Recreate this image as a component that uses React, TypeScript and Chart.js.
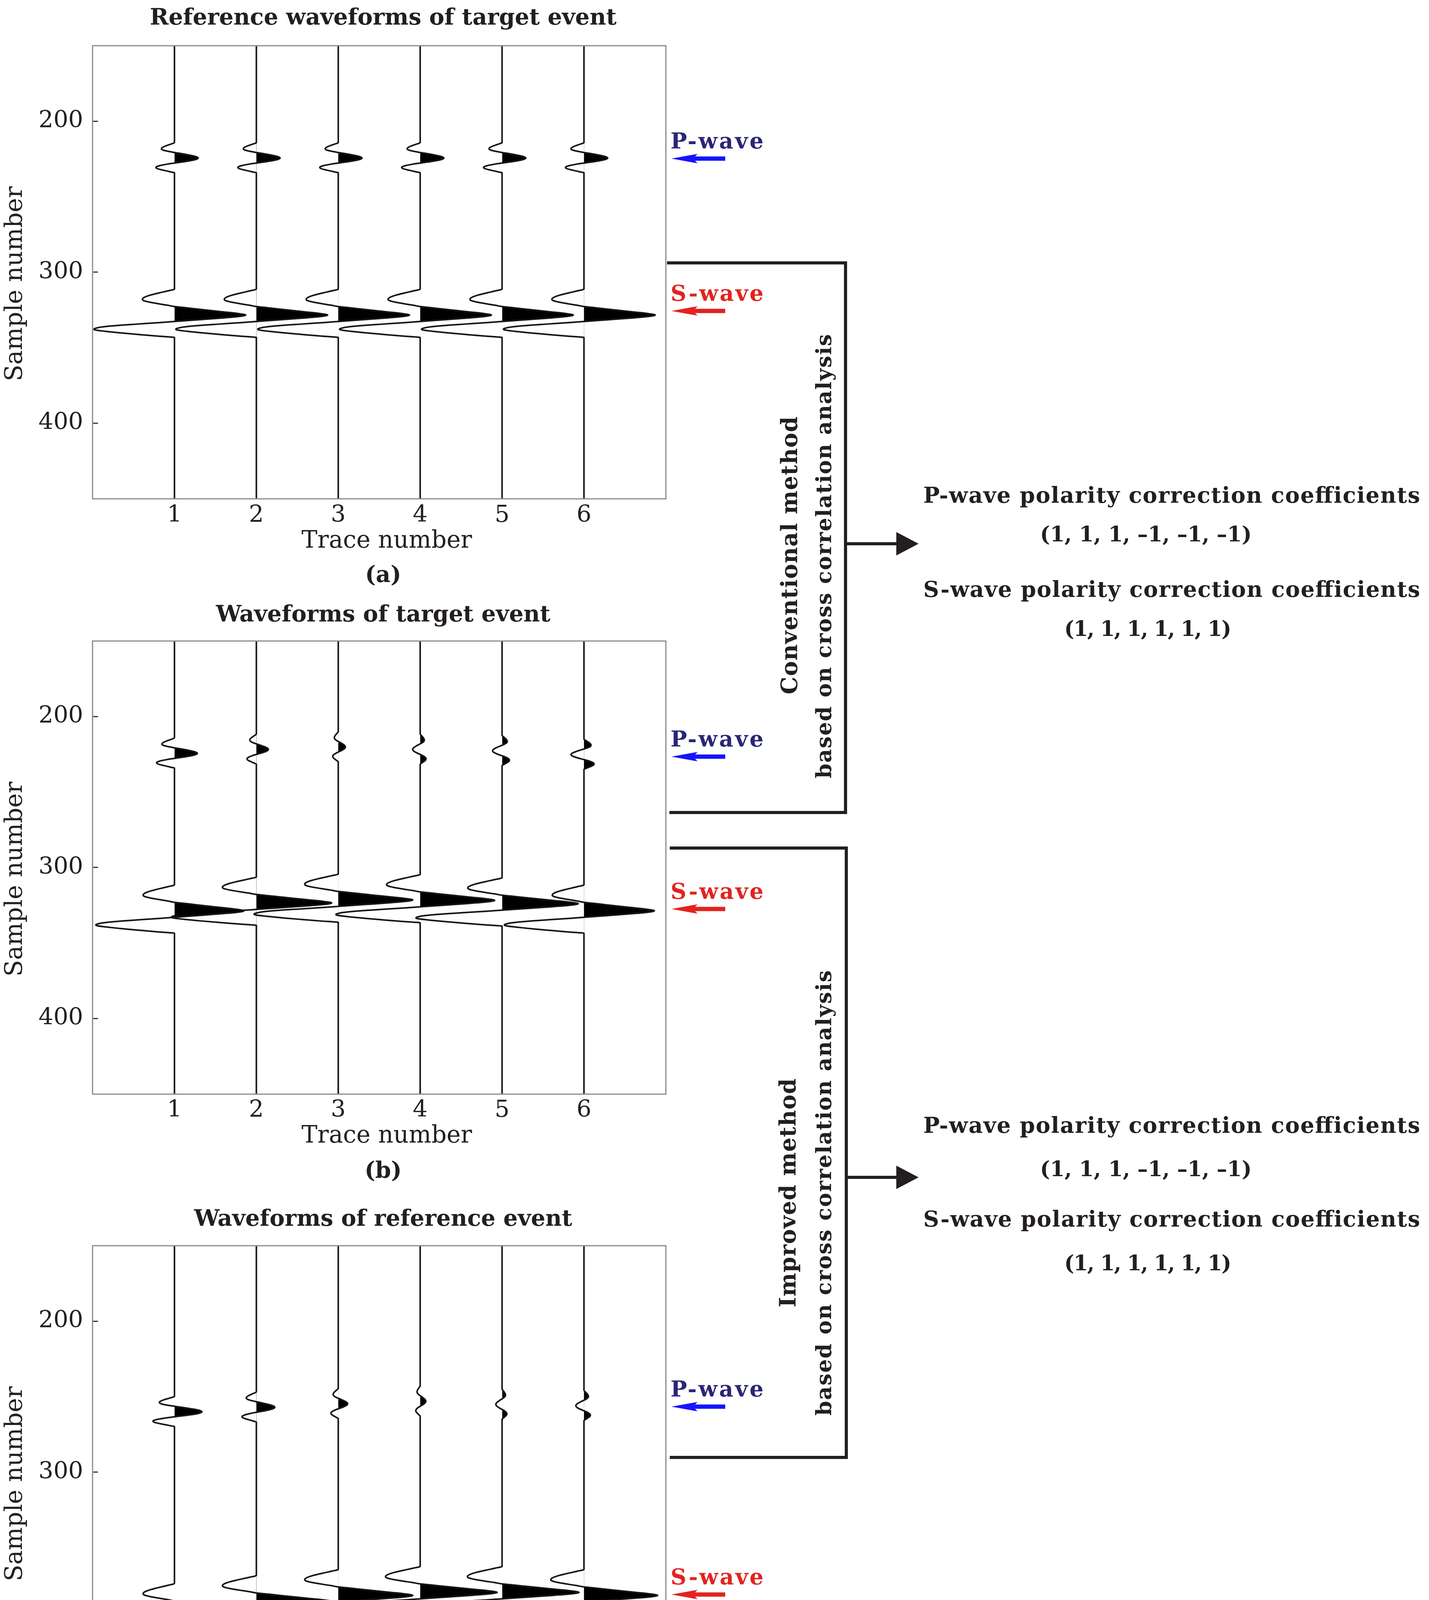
import React, { useEffect, useRef } from "react";
import { Chart, registerables } from "chart.js";

Chart.register(...registerables);

const FONT = "'DejaVu Serif', 'Liberation Serif', serif";
const INK = "#231f20";
const TRACE_INK = "#161616";

// ---------------- data ----------------
const TRACES = [1, 2, 3, 4, 5, 6];
const X_TICKS = [1, 2, 3, 4, 5, 6];
const Y_TICKS = [200, 300, 400];
const SAMPLE_MIN = 150;
const SAMPLE_MAX = 450;
const TRACE_MIN = 0;
const TRACE_MAX = 7;

// P wavelet shape (offset in samples from main peak, normalised amplitude)
const P_OFFSETS = [-10.3, -9, -8, -7, -6.2, -5.3, -4.5, -3.7, -3, -2, -1, 0, 1, 2, 3.3, 4, 5, 6.1, 7, 8, 9, 9.8];
const P_SHAPE = [0, -0.2, -0.38, -0.51, -0.55, -0.48, -0.28, 0, 0.27, 0.62, 0.9, 1, 0.88, 0.56, 0, -0.3, -0.62, -0.78, -0.72, -0.48, -0.2, 0];

// S wavelet shape
const S_OFFSETS = [-17.2, -16, -15, -14, -13, -12, -11, -10.3, -9.5, -8.5, -7.5, -6.5, -5.6, -5, -4, -3, -2, -1, 0, 1, 2, 3, 4.3, 5, 6, 7, 8, 9, 9.5, 10, 11, 12, 13, 14, 14.9];
const S_SHAPE = [0, -0.09, -0.18, -0.27, -0.35, -0.41, -0.445, -0.45, -0.43, -0.35, -0.23, -0.1, 0, 0.12, 0.31, 0.5, 0.7, 0.89, 1.0, 0.9, 0.66, 0.38, 0, -0.2, -0.52, -0.82, -1.03, -1.12, -1.13, -1.1, -0.93, -0.72, -0.48, -0.23, 0];

// (a) Reference waveforms of target event
const A_P_PEAK = [224.4, 224.4, 224.4, 224.4, 224.4, 224.4];
const A_P_AMP = [0.29, 0.29, 0.29, 0.29, 0.29, 0.29];
const A_S_PEAK = [328.3, 328.3, 328.3, 328.3, 328.3, 328.3];
const A_S_AMP = [0.87, 0.87, 0.87, 0.87, 0.87, 0.87];

// (b) Waveforms of target event
const B_P_PEAK = [224.4, 221.8, 220.2, 221.8, 222.7, 225.2];
const B_P_AMP = [0.28, 0.146, 0.087, -0.092, -0.116, -0.158];
const B_S_PEAK = [328.6, 323.4, 321.4, 321.7, 323.9, 328.6];
const B_S_AMP = [0.85, 0.92, 0.91, 0.91, 0.93, 0.86];

// (c) Waveforms of reference event
const C_P_PEAK = [260.0, 257.0, 254.7, 253.0, 255.1, 256.0];
const C_P_AMP = [0.336, 0.225, 0.115, 0.069, -0.076, -0.1];
const C_S_PEAK = [390.8, 385.5, 381.5, 379.5, 379.5, 381.5];
const C_S_AMP = [0.85, 0.92, 0.91, 0.94, 0.94, 0.9];

const PANEL_TITLES = ["Reference waveforms of target event", "Waveforms of target event", "Waveforms of reference event"];
const PANEL_TAGS = ["(a)", "(b)", "(c)"];
const X_TITLE = "Trace number";
const Y_TITLE = "Sample number";

const METHOD_1 = ["Conventional method", "based on cross correlation analysis"];
const METHOD_2 = ["Improved method", "based on cross correlation analysis"];
const P_COEF_TITLE = "P-wave polarity correction coefficients";
const S_COEF_TITLE = "S-wave polarity correction coefficients";
const P_COEFS = ["1", "1", "1", "\u20131", "\u20131", "\u20131"];
const S_COEFS = ["1", "1", "1", "1", "1", "1"];

const PANEL_DATA = [
  { pPeak: A_P_PEAK, pAmp: A_P_AMP, sPeak: A_S_PEAK, sAmp: A_S_AMP },
  { pPeak: B_P_PEAK, pAmp: B_P_AMP, sPeak: B_S_PEAK, sAmp: B_S_AMP },
  { pPeak: C_P_PEAK, pAmp: C_P_AMP, sPeak: C_S_PEAK, sAmp: C_S_AMP },
];

// ---------------- layout ----------------
const PAGE_W = 3659;
const PAGE_H = 4595;
const CANVAS_W = 1720;
const PLOT_LEFT = 237;
const PLOT_RIGHT = 1705;
const PLOT_TOP = 117;
const PLOT_H = 1160;

const TITLE_FS = 58;
const TICK_FS = 60;
const XT_FS = 61;
const YT_FS = 62;
const SUB_FS = 58;

// per panel: canvas top, title centre, gaps below plot for tick labels / axis title / tag
const PANEL_LAYOUT = [
  { top: 0, titleC: 48, d1: 43, d2: 109, d3: 198 },
  { top: 1524, titleC: 52, d1: 42, d2: 108, d3: 199 },
  { top: 3072, titleC: 51, d1: 55, d2: 122, d3: 205 },
];

function buildPoints(trace: number, pPeak: number, pAmp: number, sPeak: number, sAmp: number) {
  const pts: { x: number; y: number }[] = [{ x: trace, y: SAMPLE_MIN }];
  P_OFFSETS.forEach((o, k) => pts.push({ x: trace + pAmp * P_SHAPE[k], y: pPeak + o }));
  S_OFFSETS.forEach((o, k) => pts.push({ x: trace + sAmp * S_SHAPE[k], y: sPeak + o }));
  pts.push({ x: trace, y: SAMPLE_MAX });
  return pts;
}

const framePlugin = {
  id: "frame",
  afterDatasetsDraw(chart: any) {
    const { ctx, chartArea: a } = chart;
    ctx.save();
    ctx.strokeStyle = "#8a8a8a";
    ctx.lineWidth = 3;
    ctx.strokeRect(a.left, a.top, a.right - a.left, a.bottom - a.top);
    ctx.restore();
  },
};

function positiveFill(trace: number) {
  return (ctx: any) => {
    const chart = ctx.chart;
    const area = chart.chartArea;
    if (!area || !chart.scales.x) return "#000";
    const px = chart.scales.x.getPixelForValue(trace);
    const f = Math.min(1, Math.max(0, (px - area.left) / (area.right - area.left)));
    const g = chart.ctx.createLinearGradient(area.left, 0, area.right, 0);
    g.addColorStop(0, "rgba(0,0,0,0)");
    g.addColorStop(f, "rgba(0,0,0,0)");
    g.addColorStop(f, "#000");
    g.addColorStop(1, "#000");
    return g;
  };
}

function Panel({ index }: { index: number }) {
  const ref = useRef<HTMLCanvasElement | null>(null);
  const L = PANEL_LAYOUT[index];
  const titleLH = TITLE_FS * 1.2;
  const xtLH = XT_FS * 1.2;
  const subLH = SUB_FS * 1.2;
  const Hx = L.d2 + xtLH / 2 + 8;
  const subPadTop = Math.max(0, L.d3 - Hx - subLH / 2);
  const baseH = PLOT_TOP + PLOT_H + Hx + subPadTop + subLH;
  const H = Math.ceil(baseH + 2);
  const padB = H - baseH;
  const titlePadTop = L.titleC - titleLH / 2;
  const titlePadBottom = PLOT_TOP - titlePadTop - titleLH;

  useEffect(() => {
    const d = PANEL_DATA[index];
    const datasets = TRACES.map((t, i) => ({
      data: buildPoints(t, d.pPeak[i], d.pAmp[i], d.sPeak[i], d.sAmp[i]),
      borderColor: TRACE_INK,
      borderWidth: 4,
      pointRadius: 0,
      pointHoverRadius: 0,
      cubicInterpolationMode: "monotone",
      borderJoinStyle: "round",
      fill: { value: t },
      backgroundColor: positiveFill(t),
    }));
    const chart = new Chart(ref.current as HTMLCanvasElement, {
      type: "line",
      data: { datasets } as any,
      plugins: [framePlugin],
      options: {
        indexAxis: "y",
        animation: false,
        responsive: false,
        devicePixelRatio: 1,
        events: [],
        layout: { padding: { left: 0, right: CANVAS_W - PLOT_RIGHT, top: 0, bottom: padB } },
        plugins: {
          legend: { display: false },
          tooltip: { enabled: false },
          title: {
            display: true,
            text: " " + PANEL_TITLES[index],
            fullSize: false,
            color: INK,
            font: { family: FONT, size: TITLE_FS, weight: "bold" },
            padding: { top: titlePadTop, bottom: titlePadBottom },
          },
          subtitle: {
            display: true,
            position: "bottom",
            text: " " + PANEL_TAGS[index],
            fullSize: false,
            color: INK,
            font: { family: FONT, size: SUB_FS, weight: "bold" },
            padding: { top: subPadTop, bottom: 0 },
          },
        },
        scales: {
          x: {
            type: "linear",
            position: "bottom",
            min: TRACE_MIN,
            max: TRACE_MAX,
            afterBuildTicks: (s: any) => {
              s.ticks = X_TICKS.map((v) => ({ value: v }));
            },
            afterFit: (s: any) => {
              s.height = Hx;
            },
            grid: { display: true, drawOnChartArea: false, drawTicks: false },
            border: { display: false },
            ticks: {
              autoSkip: false,
              maxRotation: 0,
              padding: L.d1 - (TICK_FS * 1.2) / 2,
              color: INK,
              font: { family: FONT, size: TICK_FS },
            },
            title: {
              display: true,
              text: "  " + X_TITLE,
              color: INK,
              font: { family: FONT, size: XT_FS },
              padding: { top: 0, bottom: 8 },
            },
          },
          y: {
            type: "linear",
            position: "left",
            reverse: true,
            min: SAMPLE_MIN,
            max: SAMPLE_MAX,
            afterBuildTicks: (s: any) => {
              s.ticks = Y_TICKS.map((v) => ({ value: v }));
            },
            afterFit: (s: any) => {
              s.width = PLOT_LEFT;
            },
            grid: {
              display: true,
              drawOnChartArea: false,
              drawTicks: true,
              tickLength: -14,
              tickColor: "#3a3a3a",
              tickWidth: 3,
            },
            border: { display: false },
            ticks: {
              autoSkip: false,
              padding: 38,
              color: INK,
              font: { family: FONT, size: TICK_FS },
            },
            title: {
              display: true,
              text: Y_TITLE + "   ",
              color: INK,
              font: { family: FONT, size: YT_FS },
              padding: { top: 3, bottom: 0 },
            },
          },
        },
      } as any,
    });
    return () => chart.destroy();
  }, [index]);

  return (
    <canvas
      ref={ref}
      width={CANVAS_W}
      height={H}
      style={{ position: "absolute", left: 0, top: L.top, width: CANVAS_W, height: H }}
    />
  );
}

// wave labels: [text, colour, arrow colour, cap-centre y]
const WAVE_LABELS: [string, string, string, number][] = [
  ["P-wave", "#2a2676", "#1414ff", 359],
  ["S-wave", "#e2231f", "#e2231f", 749],
  ["P-wave", "#2a2676", "#1414ff", 1890],
  ["S-wave", "#e2231f", "#e2231f", 2280],
  ["P-wave", "#2a2676", "#1414ff", 3554],
  ["S-wave", "#e2231f", "#e2231f", 4035],
];

function SmallArrow({ y, color }: { y: number; color: string }) {
  const x0 = 1719;
  const xh = 1786;
  const x1 = 1857;
  const pts = [
    [x0, y],
    [xh, y - 12],
    [xh - 6, y - 5.5],
    [x1, y - 5.5],
    [x1, y + 5.5],
    [xh - 6, y + 5.5],
    [xh, y + 12],
  ]
    .map((p) => p.join(","))
    .join(" ");
  return <polygon points={pts} fill={color} />;
}

function Bracket({ top, bottom, x, leftTop, leftBottom, arrowY }: any) {
  return (
    <g>
      <polyline
        points={`${leftTop},${top} ${x},${top} ${x},${bottom} ${leftBottom},${bottom}`}
        fill="none"
        stroke={INK}
        strokeWidth={8}
        strokeLinejoin="miter"
      />
      <line x1={x} y1={arrowY} x2={2300} y2={arrowY} stroke={INK} strokeWidth={8} />
      <polygon points={`2295,${arrowY - 30} 2352,${arrowY} 2295,${arrowY + 30}`} fill={INK} />
    </g>
  );
}

function RotText({ x, y, text, len, size }: { x: number; y: number; text: string; len: number; size: number }) {
  return (
    <text
      transform={`translate(${x},${y}) rotate(-90)`}
      textAnchor="middle"
      fontSize={size}
      fontWeight="bold"
      fill={INK}
      textLength={len}
      lengthAdjust="spacing"
    >
      {text}
    </text>
  );
}

function CoefBlock({ pTitleY, pY, sTitleY, sY }: any) {
  return (
    <g fill={INK} fontWeight="bold" textAnchor="middle">
      <text x={3000} y={pTitleY + 20} fontSize={56} textLength={1272} lengthAdjust="spacing">{P_COEF_TITLE}</text>
      <text x={2934} y={pY + 20} fontSize={54} textLength={542} lengthAdjust="spacing">{"(" + P_COEFS.join(", ") + ")"}</text>
      <text x={3000} y={sTitleY + 20} fontSize={56} textLength={1272} lengthAdjust="spacing">{S_COEF_TITLE}</text>
      <text x={2939} y={sY + 20} fontSize={54} textLength={428} lengthAdjust="spacing">{"(" + S_COEFS.join(", ") + ")"}</text>
    </g>
  );
}

function Annotations() {
  return (
    <svg
      width={PAGE_W}
      height={PAGE_H}
      style={{ position: "absolute", left: 0, top: 0, pointerEvents: "none" }}
      fontFamily={FONT}
    >
      {WAVE_LABELS.map(([t, c, ac, y], i) => (
        <g key={i}>
          <text x={1717} y={y + 21} fontSize={56} fontWeight="bold" fill={c} textLength={238} lengthAdjust="spacing">
            {t}
          </text>
          <SmallArrow y={y + 47} color={ac} />
        </g>
      ))}
      <Bracket top={673} bottom={2080} x={2165} leftTop={1708} leftBottom={1714} arrowY={1392} />
      <Bracket top={2171} bottom={3731} x={2167} leftTop={1715} leftBottom={1715} arrowY={3014} />
      <RotText x={2041} y={1422} text={METHOD_1[0]} len={711} size={57} />
      <RotText x={2128} y={1424} text={METHOD_1[1]} len={1137} size={54} />
      <RotText x={2037} y={3054} text={METHOD_2[0]} len={586} size={57} />
      <RotText x={2128} y={3054} text={METHOD_2[1]} len={1140} size={54} />
      <CoefBlock pTitleY={1267} pY={1366} sTitleY={1508} sY={1608} />
      <CoefBlock pTitleY={2880} pY={2991} sTitleY={3120} sY={3232} />
    </svg>
  );
}

export default function App() {
  useEffect(() => {
    document.body.style.margin = "0";
    document.body.style.background = "#ffffff";
  }, []);
  return (
    <div style={{ position: "relative", width: PAGE_W, height: PAGE_H, background: "#ffffff", overflow: "hidden" }}>
      <Panel index={0} />
      <Panel index={1} />
      <Panel index={2} />
      <Annotations />
    </div>
  );
}
